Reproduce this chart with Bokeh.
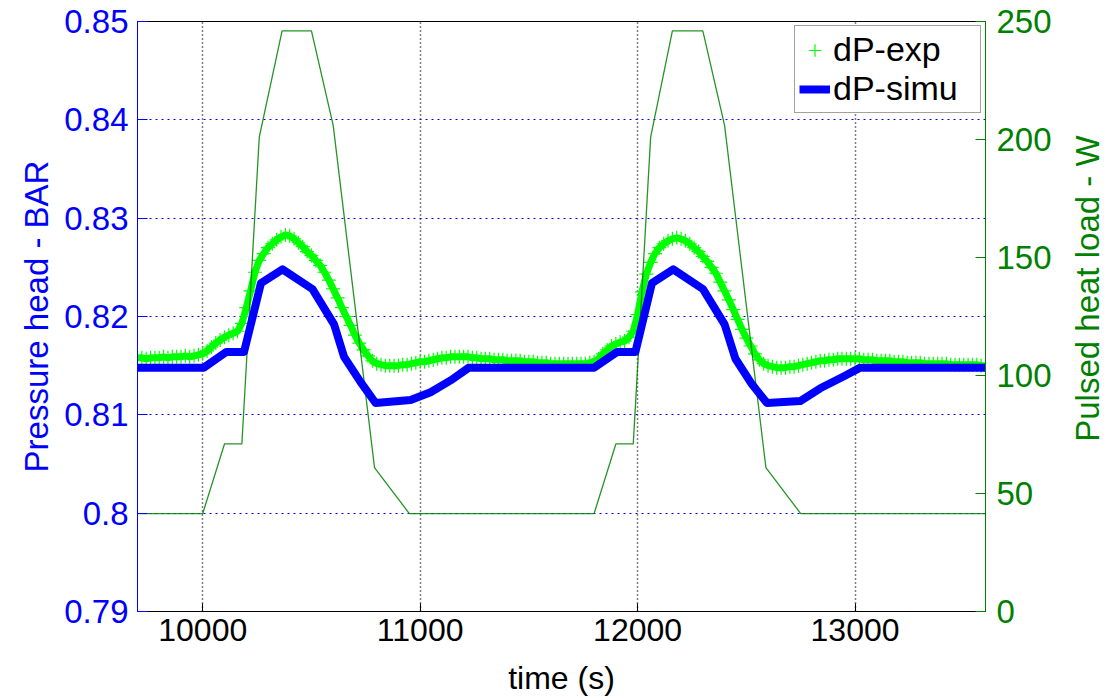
import math
from bokeh.plotting import figure
from bokeh.layouts import row
from bokeh.models import (Range1d, LinearAxis, FixedTicker, CustomJSTickFormatter,
                          Legend, LegendItem, Label)
from bokeh.embed import file_html
from bokeh.resources import INLINE

# ---------------- data ----------------
# Pulsed heat load (W), right axis
heat_time = [9700, 10000, 10100, 10180, 10260, 10365, 10500, 10600, 10790, 10950,
             11800, 11900, 11980, 12060, 12160, 12300, 12400, 12590, 12750, 13600]
heat_load = [41.5, 41.5, 71, 71, 201, 246, 246, 206, 61, 41.5,
             41.5, 71, 71, 201, 246, 246, 206, 61, 41.5, 41.5]

# Simulated pressure head (bar)
simu_time = [9700, 10005, 10108, 10190, 10268, 10367, 10504, 10604, 10650, 10727,
             10795, 10956, 11048, 11140, 11224, 11800, 11906, 11990, 12066, 12164,
             12300, 12400, 12450, 12526, 12595, 12748, 12840, 12947, 13024, 13600]
simu_dp = [0.8148, 0.8148, 0.8164, 0.8164, 0.8234, 0.8248, 0.8228, 0.8192, 0.8159, 0.8133,
           0.8112, 0.8115, 0.8123, 0.8135, 0.8148, 0.8148, 0.8164, 0.8164, 0.8234, 0.8248,
           0.8228, 0.8192, 0.8157, 0.8131, 0.8112, 0.8114, 0.8127, 0.8139, 0.8148, 0.8148]

# Experimental pressure head (bar), sampled every 20 s from 9700 s
exp_dp = [
    0.8158, 0.8158, 0.8157, 0.8158, 0.8158, 0.8158, 0.8159, 0.8158, 0.8159, 0.8159,  # 9700
    0.8159, 0.8160, 0.8159, 0.8160, 0.8161, 0.8162, 0.8165, 0.8169, 0.8173, 0.8176,  # 9900
    0.8179, 0.8181, 0.8183, 0.8185, 0.8193, 0.8209, 0.8226, 0.8245, 0.8257, 0.8264,  # 10100
    0.8270, 0.8274, 0.8278, 0.8281, 0.8283, 0.8282, 0.8279, 0.8275, 0.8271, 0.8266,  # 10300
    0.8262, 0.8257, 0.8252, 0.8245, 0.8237, 0.8228, 0.8219, 0.8209, 0.8200, 0.8191,  # 10500
    0.8181, 0.8173, 0.8166, 0.8160, 0.8155, 0.8152, 0.8151, 0.8150, 0.8150, 0.8150,  # 10700
    0.8150, 0.8151, 0.8151, 0.8152, 0.8153, 0.8154, 0.8154, 0.8155, 0.8156, 0.8157,  # 10900
    0.8158, 0.8158, 0.8159, 0.8159, 0.8159, 0.8159, 0.8159, 0.8158, 0.8158, 0.8157,  # 11100
    0.8157, 0.8157, 0.8156, 0.8156, 0.8156, 0.8155, 0.8155, 0.8155, 0.8155, 0.8154,  # 11300
    0.8154, 0.8154, 0.8153, 0.8153, 0.8153, 0.8152, 0.8152, 0.8152, 0.8152, 0.8152,  # 11500
    0.8152, 0.8152, 0.8152, 0.8152, 0.8153, 0.8154, 0.8157, 0.8162, 0.8166, 0.8170,  # 11700
    0.8172, 0.8174, 0.8175, 0.8179, 0.8185, 0.8202, 0.8225, 0.8243, 0.8255, 0.8264,  # 11900
    0.8270, 0.8274, 0.8277, 0.8279, 0.8280, 0.8279, 0.8277, 0.8274, 0.8270, 0.8266,  # 12100
    0.8261, 0.8256, 0.8250, 0.8244, 0.8235, 0.8226, 0.8217, 0.8207, 0.8197, 0.8187,  # 12300
    0.8178, 0.8170, 0.8162, 0.8156, 0.8152, 0.8150, 0.8149, 0.8148, 0.8148, 0.8148,  # 12500
    0.8149, 0.8149, 0.8150, 0.8151, 0.8152, 0.8153, 0.8154, 0.8155, 0.8155, 0.8156,  # 12700
    0.8156, 0.8157, 0.8157, 0.8157, 0.8157, 0.8157, 0.8157, 0.8156, 0.8156, 0.8156,  # 12900
    0.8155, 0.8155, 0.8155, 0.8155, 0.8154, 0.8154, 0.8154, 0.8153, 0.8153, 0.8153,  # 13100
    0.8153, 0.8152, 0.8152, 0.8152, 0.8152, 0.8152, 0.8152, 0.8151, 0.8151, 0.8151,  # 13300
    0.8151, 0.8151, 0.8151, 0.8151, 0.8150, 0.8150,                                  # 13500
]
exp_time = [9700 + 20 * i for i in range(len(exp_dp))]

x_ticks = [10000, 11000, 12000, 13000]
left_ticks = [0.79, 0.80, 0.81, 0.82, 0.83, 0.84, 0.85]
right_ticks = [0, 50, 100, 150, 200, 250]

FONT = "Liberation Sans"
BLUE = "#0000FF"
DGREEN = "#008000"
LGREEN = "#00FF00"

p = figure(width=1067, height=698, x_range=Range1d(9700, 13600), y_range=Range1d(0.79, 0.85),
           output_backend="svg", toolbar_location=None,
           min_border_left=137, min_border_right=82, min_border_top=21, min_border_bottom=87)
p.extra_y_ranges = {"heat": Range1d(0, 250)}
p.background_fill_color = "white"
p.border_fill_color = "white"
p.outline_line_color = "black"
p.outline_line_width = 1

# grids
p.xgrid.ticker = FixedTicker(ticks=x_ticks)
p.xgrid.grid_line_color = "black"
p.xgrid.grid_line_dash = "1 3"
p.xgrid.grid_line_width = 1.5
p.ygrid.ticker = FixedTicker(ticks=left_ticks)
p.ygrid.grid_line_color = BLUE
p.ygrid.grid_line_dash = "2 4"
p.ygrid.grid_line_width = 1.2

# x axis
xa = p.xaxis[0]
xa.ticker = FixedTicker(ticks=x_ticks)
xa.axis_label = "time (s)"
xa.axis_label_text_font = FONT
xa.axis_label_text_font_size = "32px"
xa.axis_label_text_font_style = "normal"
xa.axis_label_text_color = "black"
xa.axis_label_standoff = 16
xa.major_label_text_font = FONT
xa.major_label_text_font_size = "32px"
xa.major_label_text_color = "black"
xa.major_label_standoff = 7
xa.major_tick_in = 8
xa.major_tick_out = 0
xa.minor_tick_line_color = None
xa.axis_line_color = "black"
xa.major_tick_line_color = "black"

# left axis
ya = p.yaxis[0]
ya.ticker = FixedTicker(ticks=left_ticks)
ya.formatter = CustomJSTickFormatter(code="return String(Math.round(tick*100)/100);")
ya.axis_label = "Pressure head - BAR"
ya.axis_label_text_font = FONT
ya.axis_label_text_font_size = "33px"
ya.axis_label_text_font_style = "normal"
ya.axis_label_text_color = BLUE
ya.axis_label_standoff = 6
ya.major_label_text_font = FONT
ya.major_label_text_font_size = "33px"
ya.major_label_text_color = BLUE
ya.major_label_standoff = 9
ya.major_tick_in = 10
ya.major_tick_out = 0
ya.minor_tick_line_color = None
ya.axis_line_color = BLUE
ya.major_tick_line_color = BLUE

# right axis
ra = LinearAxis(y_range_name="heat", ticker=FixedTicker(ticks=right_ticks))
ra.major_label_text_font = FONT
ra.major_label_text_font_size = "33px"
ra.major_label_text_color = DGREEN
ra.major_label_standoff = 11
ra.major_tick_in = 10
ra.major_tick_out = 0
ra.minor_tick_line_color = None
ra.axis_line_color = DGREEN
ra.major_tick_line_color = DGREEN
p.add_layout(ra, "right")

# data
p.line(exp_time, exp_dp, line_color=LGREEN, line_width=7)
exp_r = p.scatter(exp_time, exp_dp, marker="cross", size=14, line_color=LGREEN, line_width=1.2)
p.line(heat_time, heat_load, y_range_name="heat", line_color=DGREEN, line_width=1.3, line_alpha=0.85)
simu_r = p.line(simu_time, simu_dp, line_color=BLUE, line_width=8, line_join="round")

legend = Legend(items=[LegendItem(label="dP-exp", renderers=[exp_r]),
                       LegendItem(label="dP-simu", renderers=[simu_r])],
                location="top_right")
legend.label_text_font = FONT
legend.label_text_font_size = "34px"
legend.label_text_color = "black"
legend.glyph_width = 31
legend.glyph_height = 36
legend.label_height = 36
legend.label_width = 143
legend.label_standoff = 3
legend.spacing = 0
legend.padding = 4
legend.margin = 4
legend.border_line_color = "#444444"
legend.border_line_width = 1.5
legend.background_fill_color = "white"
legend.background_fill_alpha = 1
p.add_layout(legend)

# narrow panel carrying the right-hand axis title (reads upward)
q = figure(width=40, height=698, x_range=Range1d(0, 1), y_range=Range1d(0, 698),
           output_backend="svg", toolbar_location=None, min_border=0)
q.axis.visible = False
q.grid.visible = False
q.outline_line_color = None
q.background_fill_color = "white"
q.border_fill_color = "white"
q.add_layout(Label(x=0.5, y=698 - 316, text="Pulsed heat load - W", angle=math.pi / 2,
                   text_align="center", text_baseline="middle", text_font=FONT,
                   text_font_size="33px", text_color=DGREEN))

layout = row(p, q, spacing=0)
open("out.html", "w").write(file_html(layout, INLINE))
